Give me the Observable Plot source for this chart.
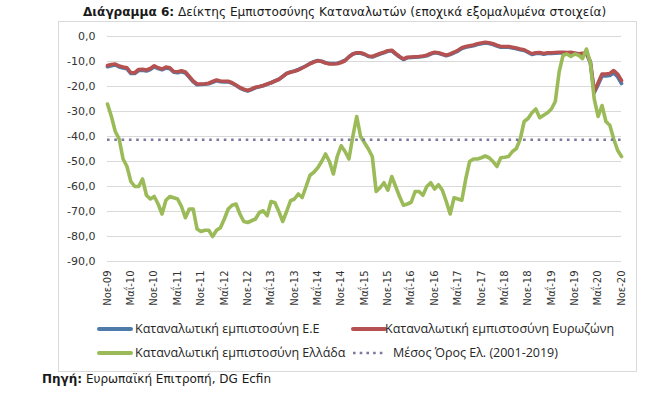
<!DOCTYPE html>
<html>
<head>
<meta charset="utf-8">
<script src="https://cdn.jsdelivr.net/npm/d3@7"></script>
<script src="https://cdn.jsdelivr.net/npm/@observablehq/plot@0.6"></script>
<style>
  body { margin: 0; background: #fff; }
  #wrap { position: relative; width: 658px; height: 393px; background: #fff; overflow: hidden; }
  #frame { position: absolute; left: 58px; top: 21px; width: 577px; height: 349px; border: 1px solid #d9d9d9; }
  #chart { position: absolute; left: 0; top: 0; }
  #title { position: absolute; left: 83px; top: 5px; font-family: "DejaVu Sans", sans-serif; font-size: 12.1px; color: #1a1a1a; white-space: nowrap; }
  .leg { position: absolute; font-family: "Open Sans", sans-serif; font-size: 12.5px; color: #262626; white-space: nowrap; line-height: 16px; }
  .sw { position: absolute; height: 4px; border-radius: 2px; }
  #source { position: absolute; left: 42px; top: 372px; font-family: "DejaVu Sans", sans-serif; font-size: 12px; color: #1a1a1a; white-space: nowrap; }
</style>
</head>
<body>
<div id="wrap">
  <div id="frame"></div>
  <div id="chart"></div>
  <div id="title"><b>Διάγραμμα 6:</b> Δείκτης Εμπιστοσύνης Καταναλωτών (εποχικά εξομαλυμένα στοιχεία)</div>
  <div id="legend"></div>
  <div id="source"><b>Πηγή:</b> Ευρωπαϊκή Επιτροπή, DG Ecfin</div>
</div>
<script>
// Tick labels (every 6 months, Nov-09 .. Nov-20)
const xTickLabels = ["Νοε-09","Μαΐ-10","Νοε-10","Μαΐ-11","Νοε-11","Μαΐ-12","Νοε-12","Μαΐ-13","Νοε-13","Μαΐ-14","Νοε-14","Μαΐ-15","Νοε-15","Μαΐ-16","Νοε-16","Μαΐ-17","Νοε-17","Μαΐ-18","Νοε-18","Μαΐ-19","Νοε-19","Μαΐ-20","Νοε-20"];
const yTicks = [0,-10,-20,-30,-40,-50,-60,-70,-80,-90];

const seriesNames = ["Καταναλωτική εμπιστοσύνη Ε.Ε","Καταναλωτική εμπιστοσύνη Ευρωζώνη","Καταναλωτική εμπιστοσύνη Ελλάδα","Μέσος Όρος Ελ. (2001-2019)"];
const seriesColors = ["#4f7bab","#b55150","#9bbb59","#7e78a0"];

// Monthly values, Nov 2009 .. Nov 2020
const euUnion = [
-12.1,-11.7,-11.4,-12.2,-12.6,-12.9,-14.8,-14.8,-13.6,-13.5,
-13.8,-13.2,-12.1,-12.8,-13.3,-12.6,-12.9,-14.3,-14.5,-14.1,
-14.6,-16.3,-18.1,-19.3,-19.2,-19.1,-18.9,-18.3,-17.7,-18.1,
-18.2,-18.1,-18.7,-19.6,-20.6,-21.3,-21.8,-21.2,-20.5,-20.1,
-19.7,-19.1,-18.5,-17.8,-17.1,-16.0,-14.8,-14.2,-13.8,-13.2,
-12.5,-11.7,-10.8,-10.1,-9.6,-9.9,-10.5,-10.8,-10.8,-10.7,
-10.2,-9.5,-8.1,-7.0,-6.6,-6.7,-7.2,-8.0,-8.2,-7.6,
-7.0,-6.5,-5.9,-5.7,-7.0,-8.2,-9.2,-8.5,-8.4,-8.3,
-8.2,-8.0,-7.7,-7.0,-6.5,-6.7,-7.2,-7.7,-7.2,-6.5,
-5.8,-4.8,-4.3,-4.0,-3.7,-3.2,-2.9,-2.6,-2.8,-3.2,
-3.8,-4.3,-4.3,-4.3,-4.6,-4.9,-5.3,-5.6,-6.4,-7.2,
-6.8,-6.7,-7.1,-6.8,-6.8,-6.7,-6.6,-6.6,-6.7,-6.6,
-6.9,-7.2,-7.0,-6.9,-10.5,-22.5,-19.3,-15.8,-15.8,-15.6,
-14.6,-16.1,-18.8
];
const euroArea = [
-11.6,-11.2,-11.0,-11.8,-12.2,-12.5,-14.5,-14.5,-13.2,-13.1,
-13.4,-12.8,-11.7,-12.5,-13.0,-12.2,-12.5,-14.0,-14.1,-13.7,
-14.2,-16.0,-17.8,-19.0,-19.0,-18.9,-18.7,-18.0,-17.4,-17.8,
-17.9,-17.9,-18.5,-19.4,-20.4,-21.1,-21.6,-21.0,-20.3,-20.0,
-19.6,-19.0,-18.5,-17.8,-17.2,-16.0,-14.8,-14.3,-13.9,-13.4,
-12.6,-11.8,-10.9,-10.2,-9.7,-10.0,-10.6,-11.0,-11.0,-10.9,
-10.4,-9.7,-8.2,-7.0,-6.5,-6.5,-7.0,-7.8,-8.0,-7.4,
-6.8,-6.3,-5.7,-5.5,-6.8,-8.0,-9.0,-8.3,-8.2,-8.1,
-8.0,-7.8,-7.5,-6.8,-6.3,-6.5,-7.0,-7.5,-7.0,-6.3,
-5.5,-4.5,-4.0,-3.7,-3.4,-2.9,-2.6,-2.3,-2.5,-2.9,
-3.5,-4.0,-4.0,-4.0,-4.3,-4.6,-5.0,-5.3,-6.1,-6.9,
-6.5,-6.4,-6.8,-6.5,-6.5,-6.4,-6.3,-6.3,-6.4,-6.3,
-6.6,-6.9,-6.7,-6.6,-10.0,-22.0,-18.5,-15.0,-15.0,-14.8,
-13.6,-15.0,-17.6
];
const greece = [
-27,-32,-38,-41,-49,-52,-58,-60,-60,-57,
-63.5,-65,-64,-67,-71,-65.5,-64,-64.5,-65,-68,
-72.5,-69,-69,-77,-78,-77.5,-77.5,-80,-77.5,-76.5,
-73,-69,-67.5,-67,-71,-74,-74.4,-73.7,-73,-70.4,
-69.7,-71.7,-66,-66.5,-70,-74,-70,-65.7,-65,-63,
-64.4,-60,-55.5,-54.3,-52.5,-50,-47,-50,-55,-48,
-43.7,-46,-49,-40,-32,-40,-42.5,-45,-48,-62,
-60.5,-58.5,-61.5,-56,-60,-64,-67.5,-67,-66.3,-62,
-62,-63.5,-60,-58.5,-61,-59.3,-61.5,-66,-71,-64.5,
-65,-65.5,-57,-50,-49,-49,-48.5,-47.8,-48.5,-50,
-52,-48.5,-48.3,-48,-46,-44.8,-41,-34,-32.8,-30.5,
-29,-32.5,-31.5,-30.5,-29,-26,-14,-7.5,-7,-8,
-7,-7.5,-8.8,-5,-10.5,-25,-32,-27.6,-34,-35.5,
-41,-45.5,-48
];
const greeceMean = [-41.3];

const fmt = d => d.toFixed(1).replace(".", ",");
const xTicks = xTickLabels.map((_, k) => k * 6);
const months = d3.range(greece.length);

const chart = Plot.plot({
  width: 658,
  height: 310,
  marginLeft: 107,
  marginRight: 37,
  marginTop: 36,
  marginBottom: 49,
  style: { background: "transparent", fontFamily: "DejaVu Sans, sans-serif", fontSize: "11px", color: "#333333" },
  x: { domain: [0, greece.length - 1], ticks: xTicks, tickFormat: d => xTickLabels[d / 6], tickRotate: -90, tickSize: 0, tickPadding: 9, label: null },
  y: { domain: [-90, 0], ticks: yTicks, tickFormat: fmt, tickSize: 0, tickPadding: 12, label: null },
  marks: [
    Plot.ruleY(yTicks, { stroke: "#d9d9d9", strokeWidth: 1 }),
    Plot.line(months, { x: d => d, y: d => euUnion[d], stroke: seriesColors[0], strokeWidth: 3.6 }),
    Plot.line(months, { x: d => d, y: d => euroArea[d], stroke: seriesColors[1], strokeWidth: 3.6 }),
    Plot.line(months, { x: d => d, y: d => greece[d], stroke: seriesColors[2], strokeWidth: 3.6 }),
    Plot.ruleY(greeceMean, { stroke: seriesColors[3], strokeWidth: 2.6, strokeDasharray: "2.6,4.7" })
  ]
});
document.getElementById("chart").appendChild(chart);

// subtle shadow like the original
const svg = d3.select(chart.tagName.toLowerCase() === "svg" ? chart : chart.querySelector("svg"));
const defs = svg.append("defs");
defs.append("filter").attr("id", "sh").attr("x", "-10%").attr("y", "-10%").attr("width", "120%").attr("height", "130%")
  .append("feDropShadow").attr("dx", 1).attr("dy", 1.8).attr("stdDeviation", 1.1).attr("flood-color", "#000").attr("flood-opacity", 0.3);
svg.selectAll("path").filter(function() { return this.getAttribute("stroke") && this.getAttribute("stroke") !== "none" && this.getAttribute("d") && this.getAttribute("d").length > 100; }).attr("filter", "url(#sh)");
svg.selectAll('[aria-label^="x-axis"] text').attr("font-size", 10);

// legend
const leg = document.getElementById("legend");
const legItems = [
  { sx: 97, tx: 135, y: 329, i: 0 },
  { sx: 351, tx: 385, y: 329, i: 1 },
  { sx: 97, tx: 135, y: 353, i: 2 },
  { sx: 351, tx: 393, y: 353, i: 3 }
];
legItems.forEach(it => {
  if (it.i < 3) {
    const s = document.createElement("div");
    s.className = "sw";
    s.style.left = it.sx + "px"; s.style.top = (it.y - 2) + "px"; s.style.width = "36px";
    s.style.background = seriesColors[it.i];
    leg.appendChild(s);
  } else {
    const ns = "http://www.w3.org/2000/svg";
    const sv = document.createElementNS(ns, "svg");
    sv.setAttribute("width", 36); sv.setAttribute("height", 6);
    sv.style.position = "absolute"; sv.style.left = it.sx + "px"; sv.style.top = (it.y - 3) + "px";
    const ln = document.createElementNS(ns, "line");
    ln.setAttribute("x1", 2); ln.setAttribute("x2", 34); ln.setAttribute("y1", 3); ln.setAttribute("y2", 3);
    ln.setAttribute("stroke", seriesColors[3]); ln.setAttribute("stroke-width", 2.6); ln.setAttribute("stroke-dasharray", "2.6,4.1");
    sv.appendChild(ln); leg.appendChild(sv);
  }
  const t = document.createElement("div");
  t.className = "leg";
  t.style.left = it.tx + "px"; t.style.top = (it.y - 8) + "px";
  t.textContent = seriesNames[it.i];
  leg.appendChild(t);
});
</script>
</body>
</html>
